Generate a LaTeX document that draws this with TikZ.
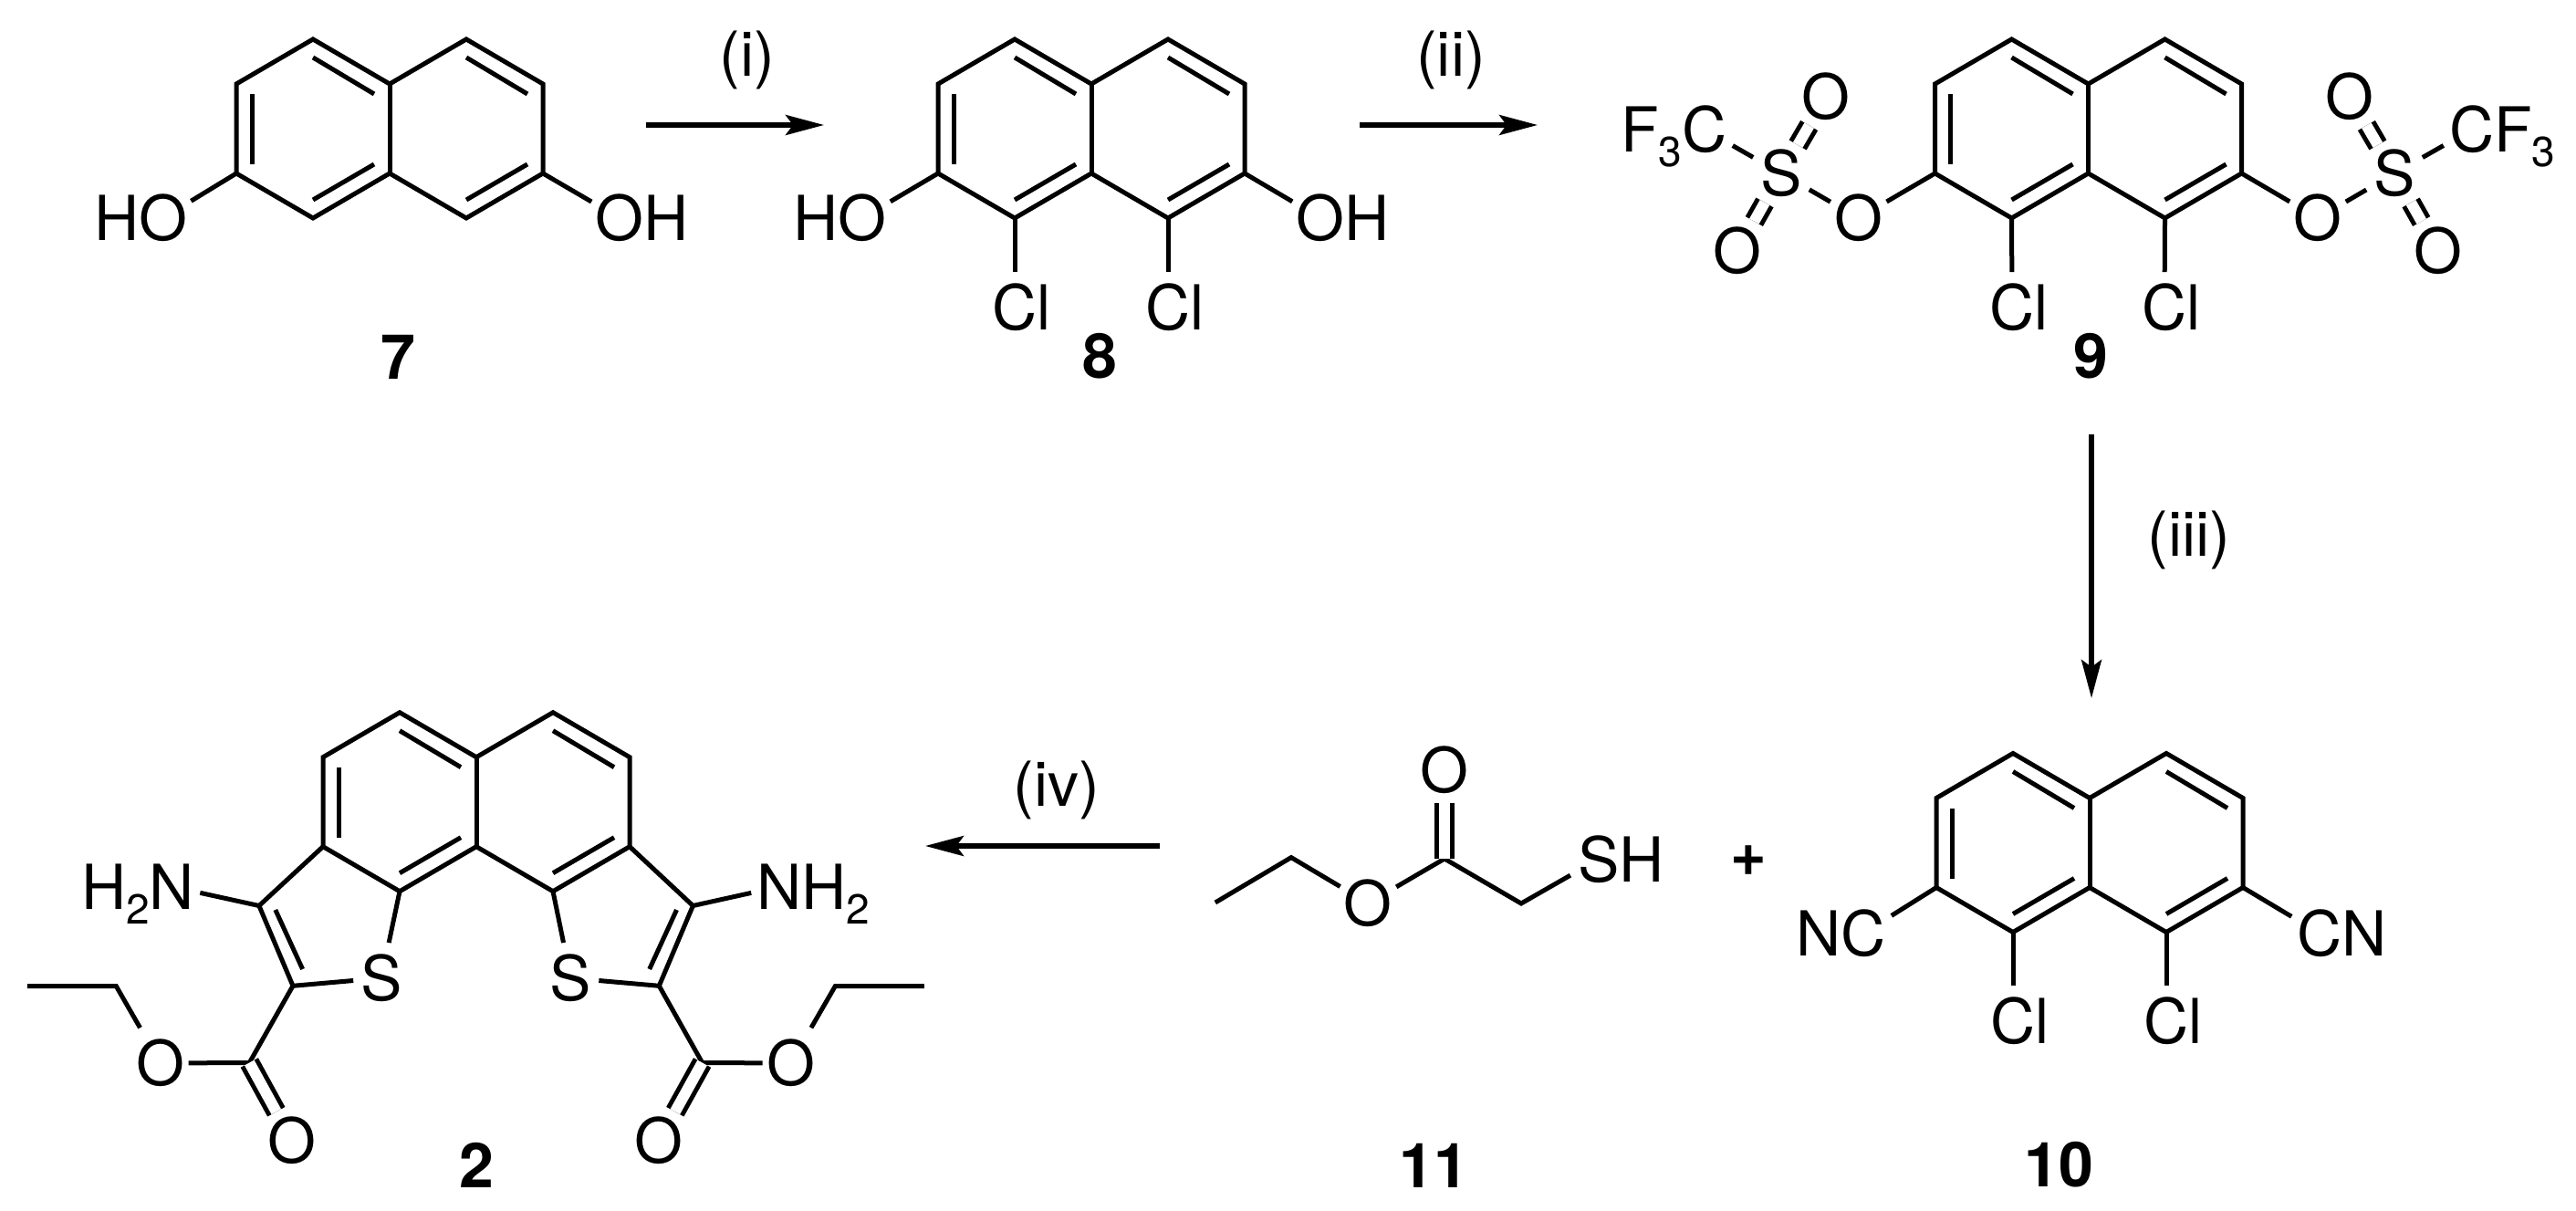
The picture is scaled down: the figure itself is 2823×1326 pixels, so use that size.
\documentclass[tikz,border=0pt]{standalone}
\usepackage{fontspec}
\setmainfont{TeX Gyre Heros}
\usetikzlibrary{arrows.meta}
\usetikzlibrary{calc}

\tikzset{
    bond/.style={line width=1.25pt,miter limit=10},
    dblbond/.style={line width=1.25pt,double,double distance=3pt},
    atom/.style={inner sep=0pt,minimum width=15pt,minimum height=19pt,text height=12.3pt,text depth=0pt,font=\fontsize{17}{20}\selectfont},
    cmpd/.style={inner sep=0pt,text height=12.3pt,text depth=0pt,font=\fontsize{17}{20}\selectfont\bfseries},
    cond/.style={inner sep=0pt,font=\fontsize{17}{20}\selectfont},
    rxn/.style={line width=1.3pt,-{Stealth[length=10.5pt,width=5.5pt,inset=2pt]}}
}

\newcommand{\subn}[1]{\raisebox{-4pt}{\fontsize{11.5}{11.5}\selectfont #1}}

%naphthalene core: prefix, x and y of the top of the fused bond
\newcommand{\naphth}[3]{%
\begin{scope}[shift={(#2,#3)}]
\coordinate (#1a1) at (-168,49);
\coordinate (#1a2) at (-84,0);
\coordinate (#1a3) at (0,49);
\coordinate (#1a4) at (0,147);
\coordinate (#1a5) at (-84,196);
\coordinate (#1a6) at (-168,147);
\coordinate (#1b1) at (168,49);
\coordinate (#1b2) at (84,0);
\coordinate (#1b5) at (84,196);
\coordinate (#1b6) at (168,147);
\draw[bond] (#1a1) -- (#1a2) -- (#1a3) -- (#1b2) -- (#1b1) -- (#1b6) -- (#1b5) -- (#1a4) -- (#1a5) -- (#1a6) -- cycle;
\draw[bond] (#1a3) -- (#1a4);
\draw[bond] (-151,60) -- (-151,137);
\draw[bond] (-84,20) -- (-17,60);
\draw[bond] (-84,176) -- (-17,137);
\draw[bond] (84,20) -- (151,60);
\draw[bond] (84,176) -- (151,137);
\end{scope}}

\begin{document}
\begin{tikzpicture}[x=0.25,y=0.25,yscale=-1,xscale=1]
\useasboundingbox (0,0) rectangle (2823,1326);

%Shape: compound 7
\naphth{n7}{427}{43}
\node[atom] (o7l) at (178.6,239) {\llap{H}O};
\node[atom] (o7r) at (679,239) {O\rlap{H}};
\draw[bond] (n7a6) -- (o7l);
\draw[bond] (n7b6) -- (o7r);
\node[cmpd] (lab7) at (436,391) {7};

%Shape: compound 8
\naphth{n8}{1196}{43}
\node[atom] (o8l) at (945,239) {\llap{H}O};
\node[atom] (o8r) at (1447,239) {O\rlap{H}};
\node[atom] (cl8l) at (1112,337) {C\rlap{l}};
\node[atom] (cl8r) at (1280,337) {C\rlap{l}};
\draw[bond] (n8a6) -- (o8l);
\draw[bond] (n8b6) -- (o8r);
\draw[bond] (n8a5) -- (cl8l);
\draw[bond] (n8b5) -- (cl8r);
\node[cmpd] (lab8) at (1205,390) {8};

%Shape: compound 9
\naphth{n9}{2288.5}{43}
\node[atom] (o9l) at (2036.7,239) {O};
\node[atom] (o9r) at (2540,239) {O};
\node[atom] (s9l) at (1952,190) {S};
\node[atom] (s9r) at (2624,190) {S};
\node[atom] (ot9l) at (2001,106) {O};
\node[atom] (ot9r) at (2575,106) {O};
\node[atom] (ob9l) at (1904,275) {O};
\node[atom] (ob9r) at (2672,275) {O};
\node[atom] (c9l) at (1868,142) {\llap{F\subn{3}}C};
\node[atom] (c9r) at (2708.6,142) {C\rlap{F\subn{3}}};
\node[atom] (cl9l) at (2205,337) {C\rlap{l}};
\node[atom] (cl9r) at (2372,337) {C\rlap{l}};
\draw[bond] (n9a6) -- (o9l);
\draw[bond] (n9b6) -- (o9r);
\draw[bond] (o9l) -- (s9l);
\draw[bond] (o9r) -- (s9r);
\draw[bond] (s9l) -- (c9l);
\draw[bond] (s9r) -- (c9r);
\draw[dblbond] ($(s9l)!0.37!(ot9l)$) -- ($(s9l)!0.625!(ot9l)$);
\draw[dblbond] ($(s9r)!0.37!(ot9r)$) -- ($(s9r)!0.625!(ot9r)$);
\draw[dblbond] ($(s9l)!0.376!(ob9l)$) -- ($(s9l)!0.618!(ob9l)$);
\draw[dblbond] ($(s9r)!0.376!(ob9r)$) -- ($(s9r)!0.618!(ob9r)$);
\draw[bond] (n9a5) -- (cl9l);
\draw[bond] (n9b5) -- (cl9r);
\node[cmpd] (lab9) at (2291,390) {9};

%Shape: compound 10
\naphth{n10}{2290}{825.5}
\node[atom] (c10l) at (2042,1022.7) {\llap{N}C};
\node[atom] (c10r) at (2542,1022.7) {C\rlap{N}};
\node[atom] (cl10l) at (2206,1119) {C\rlap{l}};
\node[atom] (cl10r) at (2374,1119) {C\rlap{l}};
\draw[bond] (n10a6) -- (c10l);
\draw[bond] (n10b6) -- (c10r);
\draw[bond] (n10a5) -- (cl10l);
\draw[bond] (n10b5) -- (cl10r);
\node[cmpd] (lab10) at (2256,1276) {10};
\node[cmpd] (plus) at (1916,935) {+};

%Shape: compound 11
\coordinate (c11a) at (1331.8,989);
\coordinate (c11b) at (1415,939.6);
\coordinate (c11c) at (1583,941);
\coordinate (c11d) at (1667,990);
\node[atom] (o11a) at (1499.4,989.8) {O};
\node[atom] (o11b) at (1583,843.4) {O};
\node[atom] (s11) at (1751.7,941.5) {S\rlap{H}};
\draw[bond] (c11a) -- (c11b) -- (o11a);
\draw[bond] (o11a) -- (c11c) -- (c11d) -- (s11);
\draw[dblbond] (c11c) -- ($(c11c)!0.625!(o11b)$);
\node[cmpd] (lab11) at (1571,1277) {11};

%Shape: compound 2
\naphth{n2}{522}{780.7}
\coordinate (c2a) at (283.9,992.5);
\coordinate (c2b) at (321,1080.3);
\coordinate (c2c) at (273.3,1164.5);
\coordinate (c2d) at (127.3,1080.6);
\coordinate (c2e) at (29.8,1080.6);
\coordinate (c2f) at (759.4,992.5);
\coordinate (c2g) at (722.3,1080.3);
\coordinate (c2h) at (769.6,1164.5);
\coordinate (c2i) at (915.3,1080.6);
\coordinate (c2j) at (1012.8,1080.6);
\node[atom] (s2l) at (418,1071.8) {S};
\node[atom] (s2r) at (625.5,1071.8) {S};
\node[atom] (n2l) at (188.5,971.6) {\llap{H\subn{2}}N};
\node[atom] (n2r) at (854,971.6) {N\rlap{H\subn{2}}};
\node[atom] (o2l) at (175.8,1165) {O};
\node[atom] (o2r) at (866.5,1165) {O};
\node[atom] (ob2l) at (320.4,1250.3) {O};
\node[atom] (ob2r) at (722,1250.3) {O};
\draw[bond] (n2a6) -- (c2a) -- (c2b) -- (s2l);
\draw[bond] (n2b6) -- (c2f) -- (c2g) -- (s2r);
\draw[bond] (n2a5) -- (s2l);
\draw[bond] (n2b5) -- (s2r);
\draw[bond] (301.8,997) -- (331.6,1062);
\draw[bond] (741.5,997) -- (711.7,1062);
\draw[bond] (c2a) -- (n2l);
\draw[bond] (c2f) -- (n2r);
\draw[bond] (c2b) -- (c2c) -- (o2l);
\draw[bond] (c2g) -- (c2h) -- (o2r);
\draw[bond] (o2l) -- (c2d) -- (c2e);
\draw[bond] (o2r) -- (c2i) -- (c2j);
\draw[dblbond] (c2c) -- ($(c2c)!0.626!(ob2l)$);
\draw[dblbond] (c2h) -- ($(c2h)!0.626!(ob2r)$);
\node[cmpd] (lab2) at (522,1277) {2};

%Shape: arrows
\coordinate (ar1a) at (708,137);
\coordinate (ar1b) at (903,137);
\coordinate (ar2a) at (1490,137);
\coordinate (ar2b) at (1685,137);
\coordinate (ar3a) at (2292,476);
\coordinate (ar3b) at (2292,765);
\coordinate (ar4a) at (1271,927);
\coordinate (ar4b) at (1014,927);
\draw[rxn] (ar1a) -- (ar1b);
\draw[rxn] (ar2a) -- (ar2b);
\draw[rxn] (ar3a) -- (ar3b);
\draw[rxn] (ar4a) -- (ar4b);

% Text Node
\node[cond] (cond1) at (819,66) {(i)};
% Text Node
\node[cond] (cond2) at (1590,66) {(ii)};
% Text Node
\node[cond] (cond3) at (2399,592) {(iii)};
% Text Node
\node[cond] (cond4) at (1158,866) {(iv)};

\end{tikzpicture}
\end{document}
